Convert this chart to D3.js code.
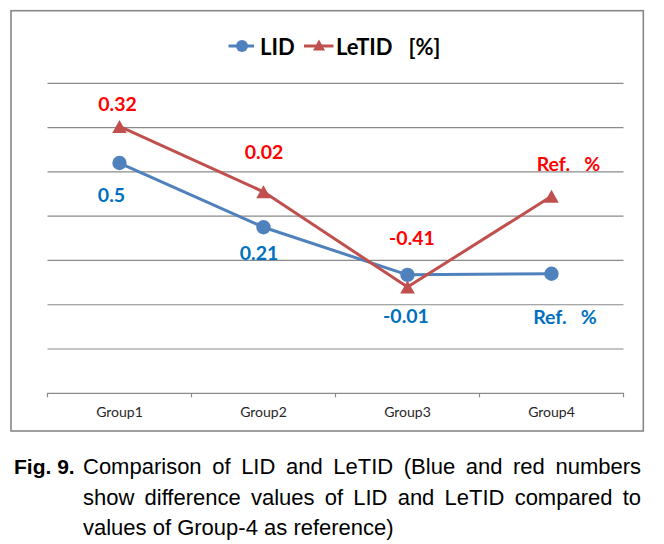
<!DOCTYPE html>
<html>
<head>
<meta charset="utf-8">
<script src="https://cdn.jsdelivr.net/npm/d3@7"></script>
<style>
  html, body { margin: 0; padding: 0; background: #fff; }
  svg { display: block; }
</style>
</head>
<body>
<svg id="chart" width="664" height="544"></svg>
<script>
// ---------- data ----------
const categories = ["Group1", "Group2", "Group3", "Group4"];
const lidValues = [1.04, 0.75, 0.535, 0.54];
const letidValues = [1.205, 0.91, 0.48, 0.89];
const lidLabels = ["0.5", "0.21", "-0.01", "Ref.   %"];
const letidLabels = ["0.32", "0.02", "-0.41", "Ref.   %"];
const yTicks = [0, 0.2, 0.4, 0.6, 0.8, 1.0, 1.2, 1.4];
const seriesNames = ["LID", "LeTID   [%]"];
const captionLabel = "Fig. 9.";
const captionLines = [
  "Comparison of LID and LeTID (Blue and red numbers",
  "show difference values of LID and LeTID compared to",
  "values of Group-4 as reference)"
];

// ---------- layout ----------
const svg = d3.select("#chart");
const plot = { left: 47.5, right: 623.5, top: 83.3, bottom: 393.3 };
const blue = "#4F81BD", red = "#C0504D";
const blueLabel = "#0070C0", redLabel = "#FF0000";
const gridColor = "#8a8a8a";
const chartFont = "Lato, 'Open Sans', sans-serif";

// label offsets (dx to text centre, dy to baseline) relative to point
const lidOffsets = [[-8, 38.5], [-4.5, 32.5], [-1.5, 48.5], [13.5, 50]];
const letidOffsets = [[-2, -15], [0.5, -32.5], [4.5, -42.5], [17, -25.5]];

const x = d3.scaleBand().domain(categories).range([plot.left, plot.right]);
const y = d3.scaleLinear().domain([0, 1.4]).range([plot.bottom, plot.top]);
const cx = c => x(c) + x.bandwidth() / 2;

// outer border
svg.append("rect")
  .attr("x", 11).attr("y", 10.7).attr("width", 632.3).attr("height", 420.3)
  .attr("fill", "#fff").attr("stroke", "#878787").attr("stroke-width", 1.6);

// gridlines
svg.append("g").selectAll("line").data(yTicks.slice(1)).join("line")
  .attr("x1", plot.left).attr("x2", plot.right)
  .attr("y1", d => y(d)).attr("y2", d => y(d))
  .attr("stroke", gridColor).attr("stroke-width", 1.2);

// x axis
const xAxis = d3.axisBottom(x).tickSize(4).tickSizeOuter(4).tickFormat(d => d);
const gx = svg.append("g").attr("transform", `translate(0,${plot.bottom})`).call(xAxis);
gx.select(".domain").attr("stroke", gridColor).attr("stroke-width", 1.2)
  .attr("d", `M${plot.left},4V0H${plot.right}V4`);
gx.selectAll(".tick line").remove();
gx.append("g").selectAll("line").data(categories.slice(1)).join("line")
  .attr("x1", d => x(d)).attr("x2", d => x(d))
  .attr("y1", 0).attr("y2", 4)
  .attr("stroke", gridColor).attr("stroke-width", 1.2);
gx.selectAll(".tick text")
  .attr("y", 0).attr("dy", "24px")
  .attr("font-family", chartFont).attr("font-size", 14).attr("fill", "#262626");

// lines
const lineGen = d3.line().x((d, i) => cx(categories[i])).y(d => y(d));
svg.append("path").datum(lidValues).attr("d", lineGen)
  .attr("fill", "none").attr("stroke", blue).attr("stroke-width", 3).attr("stroke-linejoin", "round");
svg.append("path").datum(letidValues).attr("d", lineGen)
  .attr("fill", "none").attr("stroke", red).attr("stroke-width", 3).attr("stroke-linejoin", "round");

// markers
const tri = (w, h) => `M0,${-h / 2}L${w / 2},${h / 2}L${-w / 2},${h / 2}Z`;
svg.append("g").selectAll("circle").data(lidValues).join("circle")
  .attr("cx", (d, i) => cx(categories[i])).attr("cy", d => y(d))
  .attr("r", 7.2).attr("fill", blue);
svg.append("g").selectAll("path").data(letidValues).join("path")
  .attr("d", tri(14.5, 13))
  .attr("transform", (d, i) => `translate(${cx(categories[i])},${y(d)})`)
  .attr("fill", red);

// data labels
function labels(values, texts, offsets, color) {
  svg.append("g").selectAll("text").data(values).join("text")
    .attr("x", (d, i) => cx(categories[i]) + offsets[i][0])
    .attr("y", (d, i) => y(d) + offsets[i][1])
    .attr("text-anchor", "middle")
    .attr("font-family", chartFont).attr("font-weight", 700).attr("font-size", 19.5)
    .attr("fill", color)
    .style("white-space", "pre")
    .text((d, i) => texts[i]);
}
labels(lidValues, lidLabels, lidOffsets, blueLabel);
labels(letidValues, letidLabels, letidOffsets, redLabel);

// legend
const lg = svg.append("g");
lg.append("line").attr("x1", 228.5).attr("x2", 254).attr("y1", 46).attr("y2", 46)
  .attr("stroke", blue).attr("stroke-width", 3);
lg.append("circle").attr("cx", 242).attr("cy", 46).attr("r", 6).attr("fill", blue);
lg.append("text").attr("x", 260).attr("y", 55.3)
  .attr("font-family", chartFont).attr("font-weight", 700).attr("font-size", 22)
  .attr("fill", "#000").text(seriesNames[0]);
lg.append("line").attr("x1", 304).attr("x2", 333.5).attr("y1", 46).attr("y2", 46)
  .attr("stroke", red).attr("stroke-width", 3);
lg.append("path").attr("d", tri(12, 11)).attr("transform", "translate(319,45)").attr("fill", red);
lg.append("text").attr("x", 336).attr("y", 55.3)
  .attr("font-family", chartFont).attr("font-weight", 700).attr("font-size", 22)
  .attr("fill", "#000").style("white-space", "pre").text(seriesNames[1]);

// caption
const capFont = "'Liberation Sans', Arial, Helvetica, sans-serif";
const capSize = 22;
const bodyLeft = 83, bodyRight = 641;
const baselines = [474, 504.5, 535];
svg.append("text").attr("x", 14).attr("y", baselines[0])
  .attr("font-family", capFont).attr("font-size", 21).attr("font-weight", 700)
  .attr("fill", "#000").text(captionLabel);

captionLines.forEach((line, li) => {
  const words = line.split(" ");
  const g = svg.append("g");
  const nodes = words.map(w => g.append("text").attr("y", baselines[li])
    .attr("font-family", capFont).attr("font-size", capSize).attr("fill", "#000").text(w));
  const widths = nodes.map(n => n.node().getComputedTextLength());
  const total = d3.sum(widths);
  const justify = li < captionLines.length - 1;
  const gap = justify ? (bodyRight - bodyLeft - total) / (words.length - 1) : capSize * 0.278;
  let xp = bodyLeft;
  nodes.forEach((n, i) => { n.attr("x", xp); xp += widths[i] + gap; });
});
</script>
</body>
</html>
